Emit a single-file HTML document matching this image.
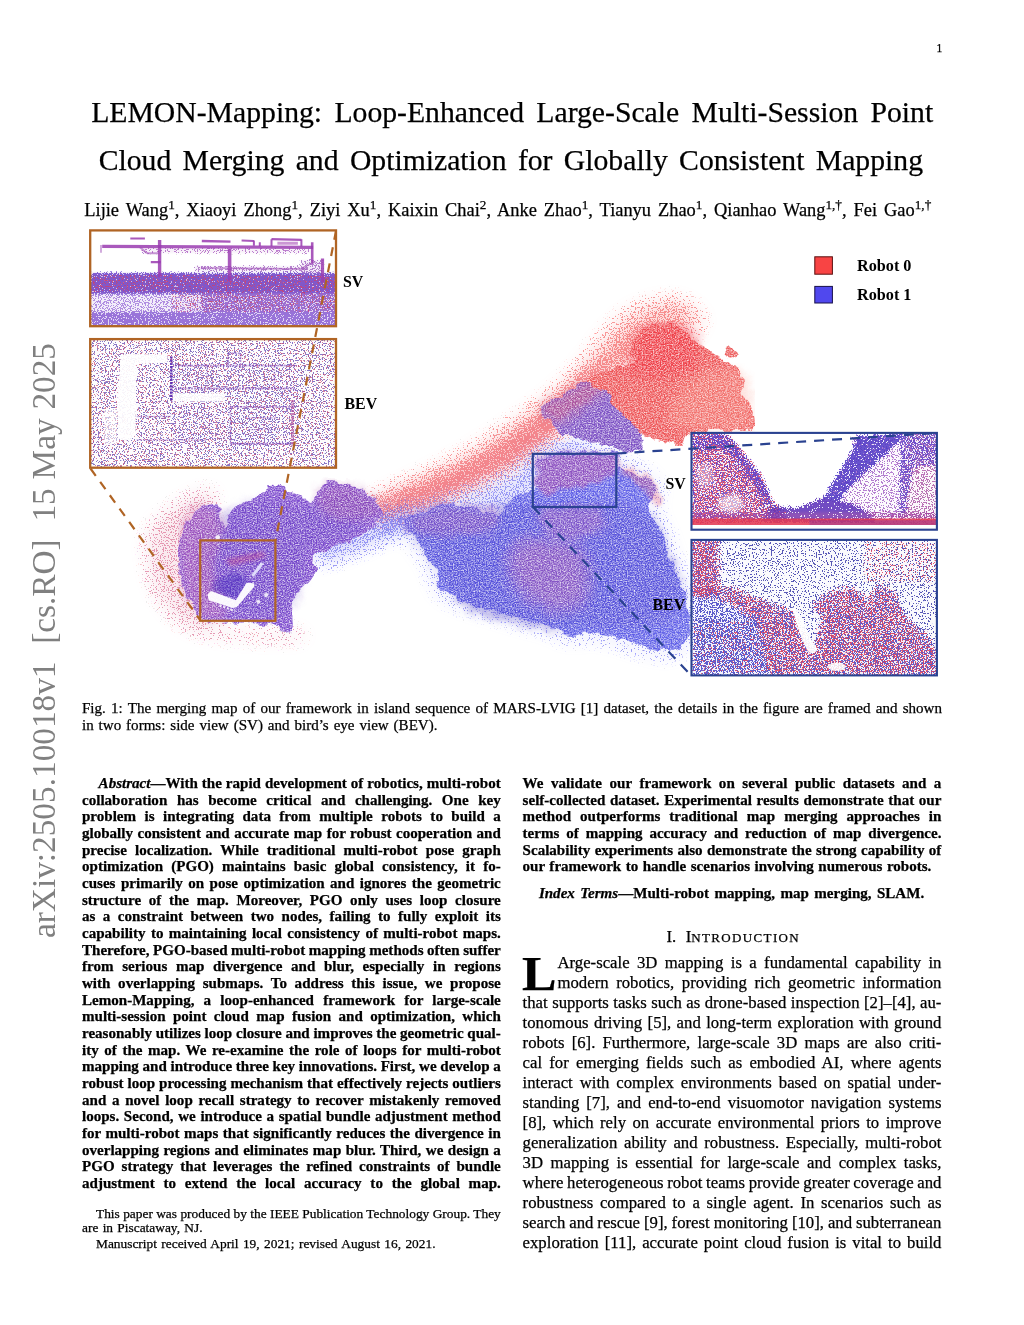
<!DOCTYPE html>
<html lang="en"><head><meta charset="utf-8"><title>LEMON-Mapping</title>
<style>
html,body{margin:0;padding:0;background:#fff;}
body{width:1024px;height:1325px;position:relative;overflow:hidden;font-family:"Liberation Serif",serif;color:#000;-webkit-text-stroke:0.25px #000;}
.l{position:absolute;white-space:nowrap;line-height:1;}
.b{font-weight:bold;}
.l sup{font-size:0.72em;line-height:0;vertical-align:baseline;position:relative;top:-0.5em;}
.arx{position:absolute;left:26.7px;top:937.5px;transform-origin:0 0;transform:rotate(-90deg);font-size:33.3px;line-height:1;white-space:nowrap;color:#808080;-webkit-text-stroke:0;width:595px;text-align:justify;text-align-last:justify;}
#fig{position:absolute;left:0;top:0;}
</style></head><body>
<svg id="fig" width="1024" height="700" viewBox="0 0 1024 700" font-family="Liberation Serif, serif">
<defs>
<filter id="rag" x="-5%" y="-5%" width="110%" height="110%">
 <feTurbulence type="fractalNoise" baseFrequency="0.09" numOctaves="3" seed="4" result="t"/>
 <feDisplacementMap in="SourceGraphic" in2="t" scale="9" xChannelSelector="R" yChannelSelector="G"/>
</filter>
<filter id="grain" x="0" y="0" width="100%" height="100%" color-interpolation-filters="sRGB">
 <feTurbulence type="fractalNoise" baseFrequency="0.09" numOctaves="3" seed="4" result="t"/>
 <feDisplacementMap in="SourceGraphic" in2="t" scale="9" xChannelSelector="R" yChannelSelector="G" result="sg"/>
 <feTurbulence type="fractalNoise" baseFrequency="0.73 0.81" numOctaves="2" seed="11" result="n"/>
 <feColorMatrix in="n" type="matrix" values="0 0 0 0 1  0 0 0 0 1  0 0 0 0 1  1.7 0 0 0 -0.6" result="w"/>
 <feComposite in="w" in2="sg" operator="in" result="wi"/>
 <feMerge><feMergeNode in="sg"/><feMergeNode in="wi"/></feMerge>
</filter>
<filter id="stip" x="-20%" y="-20%" width="140%" height="140%" color-interpolation-filters="sRGB">
 <feGaussianBlur in="SourceGraphic" stdDeviation="9" result="soft"/>
 <feTurbulence type="fractalNoise" baseFrequency="0.73 0.81" numOctaves="2" seed="5" result="n"/>
 <feColorMatrix in="n" type="matrix" values="0 0 0 0 0  0 0 0 0 0  0 0 0 0 0  2.8 0 0 0 -0.9" result="na"/>
 <feComposite in="soft" in2="na" operator="arithmetic" k1="0" k2="1" k3="1" k4="-1" result="sum"/>
 <feComponentTransfer in="sum" result="th"><feFuncA type="linear" slope="6" intercept="0"/></feComponentTransfer>
 <feComposite in="soft" in2="th" operator="in" result="c"/>
 <feComponentTransfer in="c" result="d1"><feFuncA type="linear" slope="30" intercept="0"/></feComponentTransfer>
 <feComponentTransfer in="d1" result="d2"><feFuncA type="linear" slope="0.6" intercept="0"/></feComponentTransfer>
 <feComponentTransfer in="soft" result="tint"><feFuncA type="linear" slope="0.45" intercept="0"/></feComponentTransfer>
 <feMerge><feMergeNode in="tint"/><feMergeNode in="d2"/></feMerge>
</filter>
<filter id="stipb" x="-20%" y="-20%" width="140%" height="140%" color-interpolation-filters="sRGB">
 <feGaussianBlur in="SourceGraphic" stdDeviation="9" result="soft"/>
 <feTurbulence type="fractalNoise" baseFrequency="0.73 0.81" numOctaves="2" seed="17" result="n"/>
 <feColorMatrix in="n" type="matrix" values="0 0 0 0 0  0 0 0 0 0  0 0 0 0 0  2.8 0 0 0 -0.9" result="na"/>
 <feComposite in="soft" in2="na" operator="arithmetic" k1="0" k2="1" k3="1" k4="-1" result="sum"/>
 <feComponentTransfer in="sum" result="th"><feFuncA type="linear" slope="6" intercept="0"/></feComponentTransfer>
 <feComposite in="soft" in2="th" operator="in" result="c"/>
 <feComponentTransfer in="c" result="d1"><feFuncA type="linear" slope="30" intercept="0"/></feComponentTransfer>
 <feComponentTransfer in="d1" result="d2"><feFuncA type="linear" slope="0.6" intercept="0"/></feComponentTransfer>
 <feComponentTransfer in="soft" result="tint"><feFuncA type="linear" slope="0.45" intercept="0"/></feComponentTransfer>
 <feMerge><feMergeNode in="tint"/><feMergeNode in="d2"/></feMerge>
</filter>
<filter id="b4"><feGaussianBlur stdDeviation="4"/></filter>
<filter id="b8"><feGaussianBlur stdDeviation="8"/></filter>
<filter id="b2"><feGaussianBlur stdDeviation="2"/></filter>
</defs>
<g filter="url(#stip)" fill="none" stroke-linecap="round" stroke-linejoin="round">
<path d="M150.0,530.0C156.2,520.0 174.2,505.8 185.0,500.0C195.8,494.2 212.5,485.0 215.0,495.0C217.5,505.0 200.0,538.3 200.0,560.0C200.0,581.7 198.3,613.0 215.0,625.0C231.7,637.0 287.5,629.5 300.0,632.0C312.5,634.5 306.7,640.0 290.0,640.0C273.3,640.0 221.7,638.7 200.0,632.0C178.3,625.3 168.7,612.0 160.0,600.0C151.3,588.0 149.7,571.7 148.0,560.0C146.3,548.3 143.8,540.0 150.0,530.0Z" fill="#d86088" fill-opacity="0.3"/>
<path d="M385.0,494.0C399.2,484.0 440.8,468.0 470.0,450.0C499.2,432.0 535.0,408.0 560.0,386.0C585.0,364.0 602.0,332.3 620.0,318.0C638.0,303.7 656.0,301.3 668.0,300.0C680.0,298.7 693.3,304.3 692.0,310.0C690.7,315.7 673.7,323.3 660.0,334.0C646.3,344.7 630.0,358.0 610.0,374.0C590.0,390.0 563.3,413.0 540.0,430.0C516.7,447.0 495.8,462.7 470.0,476.0C444.2,489.3 399.2,507.0 385.0,510.0C370.8,513.0 370.8,504.0 385.0,494.0Z" fill="#f25a5a" fill-opacity="0.34"/>
<path d="M382.0,500.0C396.7,491.7 442.8,477.3 470.0,462.0C497.2,446.7 522.5,426.3 545.0,408.0C567.5,389.7 587.5,365.8 605.0,352.0C622.5,338.2 644.2,325.3 650.0,325.0C655.8,324.7 647.5,341.2 640.0,350.0C632.5,358.8 621.7,364.3 605.0,378.0C588.3,391.7 562.5,415.3 540.0,432.0C517.5,448.7 496.3,464.7 470.0,478.0C443.7,491.3 396.7,508.3 382.0,512.0C367.3,515.7 367.3,508.3 382.0,500.0Z" fill="#f25a5a" fill-opacity="0.45"/>
<path d="M380,509 C428,496 474,476 512,452 S570,405 600,380" stroke="#ee5c66" stroke-opacity="0.95" stroke-width="20"/>
<path d="M610.0,370.0C606.7,366.7 623.3,344.2 630.0,335.0C636.7,325.8 641.7,319.8 650.0,315.0C658.3,310.2 671.3,305.8 680.0,306.0C688.7,306.2 699.7,311.3 702.0,316.0C704.3,320.7 702.7,327.5 694.0,334.0C685.3,340.5 664.0,349.0 650.0,355.0C636.0,361.0 613.3,373.3 610.0,370.0Z" fill="#f25a5a" fill-opacity="0.35"/>
</g>
<g filter="url(#stipb)" fill="none" stroke-linecap="round" stroke-linejoin="round">
<path d="M409.8,515.8C413.7,512.8 443.0,502.8 459.6,495.9C476.2,489.0 497.2,480.9 509.4,474.3C521.6,467.7 522.1,461.9 532.6,456.0C543.2,450.2 562.5,441.1 572.5,439.4C582.4,437.8 599.0,437.8 592.4,446.1C585.8,454.4 547.6,478.2 532.6,489.2C517.7,500.3 513.3,510.0 502.8,512.5C492.2,515.0 480.6,503.9 469.6,504.2C458.5,504.5 446.3,512.2 436.4,514.1C426.4,516.1 405.9,518.8 409.8,515.8Z" fill="#6a6af0" fill-opacity="0.38"/>
<path d="M322,553 C350,545 380,530 406,519" stroke="#6464ee" stroke-opacity="0.7" stroke-width="15"/>
<path d="M385,524 L408,518" stroke="#6060ee" stroke-opacity="0.9" stroke-width="14"/>
<path d="M409.4,516.9C414.1,513.2 429.7,509.6 437.5,507.5C445.3,505.4 449.5,504.1 456.2,504.4C463.0,504.6 470.8,507.5 478.1,509.1C485.4,510.6 495.3,514.5 500.0,513.8C504.7,513.0 502.1,508.0 506.2,504.4C510.4,500.7 519.8,494.7 525.0,491.9C530.2,489.0 535.4,491.4 537.5,487.2C539.6,483.0 536.5,471.8 537.5,466.9C538.5,461.9 539.1,459.8 543.8,457.5C548.4,455.2 553.6,453.6 565.6,452.8C577.6,452.0 606.8,450.5 615.6,452.8C624.5,455.2 615.1,463.5 618.8,466.9C622.4,470.3 632.3,470.5 637.5,473.1C642.7,475.7 646.9,479.4 650.0,482.5C653.1,485.6 656.8,488.2 656.2,491.9C655.7,495.5 646.9,499.2 646.9,504.4C646.9,509.6 653.1,516.4 656.2,523.1C659.4,529.9 663.0,537.7 665.6,545.0C668.2,552.3 669.3,560.6 671.9,566.9C674.5,573.1 678.6,575.7 681.2,582.5C683.9,589.3 685.9,599.2 687.5,607.5C689.1,615.8 691.7,626.2 690.6,632.5C689.6,638.8 685.4,641.9 681.2,645.0C677.1,648.1 672.9,651.2 665.6,651.2C658.3,651.2 645.3,647.1 637.5,645.0C629.7,642.9 626.0,640.8 618.8,638.8C611.5,636.7 602.1,633.0 593.8,632.5C585.4,632.0 576.0,636.7 568.8,635.6C561.5,634.6 557.3,628.9 550.0,626.2C542.7,623.6 534.4,622.6 525.0,620.0C515.6,617.4 504.2,613.8 493.8,610.6C483.3,607.5 471.4,604.9 462.5,601.2C453.6,597.6 445.3,594.5 440.6,588.8C435.9,583.0 438.0,574.2 434.4,566.9C430.7,559.6 422.9,551.2 418.8,545.0C414.6,538.8 410.9,534.1 409.4,529.4C407.8,524.7 404.7,520.5 409.4,516.9Z" fill="none" stroke="#6a6af0" stroke-opacity="0.3" stroke-width="10"/>
</g>
<g filter="url(#grain)">
<path d="M540.9,407.9C543.7,403.2 557.3,397.4 565.8,393.0C574.4,388.5 584.1,380.8 592.4,381.3C600.7,381.9 608.5,389.4 615.6,396.3C622.8,403.2 631.1,414.5 635.6,422.8C640.0,431.1 643.9,441.4 642.2,446.1C640.5,450.8 633.9,451.9 625.6,451.1C617.3,450.2 602.4,443.9 592.4,441.1C582.4,438.3 573.0,437.8 565.8,434.5C558.6,431.1 553.4,425.6 549.2,421.2C545.1,416.8 538.2,412.6 540.9,407.9Z" fill="#7c50c4"/>
<path d="M540.9,407.9C542.6,402.9 557.3,397.4 565.8,393.0C574.4,388.5 585.8,381.9 592.4,381.3C599.0,380.8 607.9,384.9 605.7,389.6C603.5,394.3 587.4,404.0 579.1,409.6C570.8,415.1 562.2,423.1 555.9,422.8C549.5,422.6 539.3,412.9 540.9,407.9Z" fill="#d0507a" fill-opacity="0.55" filter="url(#b4)"/>
<path d="M630.3,348.6C631.1,344.3 633.4,338.4 637.3,334.5C641.2,330.6 647.1,326.9 653.7,325.2C660.4,323.4 671.7,322.8 677.2,324.0C682.6,325.2 683.4,329.3 686.6,332.2C689.7,335.1 692.0,338.4 695.9,341.6C699.8,344.7 705.3,348.2 710.0,350.9C714.7,353.7 720.1,355.6 724.0,358.0C728.0,360.3 730.3,361.5 733.4,365.0C736.5,368.5 741.2,374.4 742.8,379.1C744.4,383.7 741.2,388.4 742.8,393.1C744.4,397.8 750.2,402.1 752.2,407.2C754.1,412.3 755.3,419.7 754.5,423.6C753.7,427.5 751.0,429.4 747.5,430.6C744.0,431.8 742.8,430.2 733.4,430.6C724.0,431.0 699.8,430.6 691.2,433.0C682.6,435.3 686.2,443.1 681.9,444.7C677.6,446.2 670.1,443.1 665.5,442.3C660.8,441.6 658.4,441.9 653.7,440.0C649.1,438.0 642.0,434.5 637.3,430.6C632.7,426.7 629.5,420.8 625.6,416.6C621.7,412.3 617.0,408.7 613.9,404.8C610.8,400.9 611.2,396.6 606.9,393.1C602.6,389.6 590.9,386.5 588.1,383.7C585.4,381.0 585.4,379.4 590.5,376.7C595.5,374.0 611.6,370.1 618.6,367.3C625.6,364.6 630.7,363.4 632.7,360.3C634.6,357.2 629.5,352.9 630.3,348.6Z" fill="#ee5658"/>
<path d="M632.0,352.0C634.5,345.0 634.5,335.0 640.0,330.0C645.5,325.0 656.7,322.3 665.0,322.0C673.3,321.7 684.2,323.3 690.0,328.0C695.8,332.7 700.0,342.7 700.0,350.0C700.0,357.3 698.3,367.3 690.0,372.0C681.7,376.7 660.8,378.0 650.0,378.0C639.2,378.0 628.0,376.3 625.0,372.0C622.0,367.7 629.5,359.0 632.0,352.0Z" fill="#f02830" fill-opacity="0.45" filter="url(#b4)"/>
<path d="M690.0,380.0C701.7,372.0 729.7,367.0 740.0,372.0C750.3,377.0 750.3,400.7 752.0,410.0C753.7,419.3 758.7,424.7 750.0,428.0C741.3,431.3 713.3,431.3 700.0,430.0C686.7,428.7 671.7,428.3 670.0,420.0C668.3,411.7 678.3,388.0 690.0,380.0Z" fill="#f8a090" fill-opacity="0.35" filter="url(#b4)"/>
<circle cx="732" cy="353" r="5.5" fill="#ec5a5a"/>
<path d="M409.4,516.9C414.1,513.2 429.7,509.6 437.5,507.5C445.3,505.4 449.5,504.1 456.2,504.4C463.0,504.6 470.8,507.5 478.1,509.1C485.4,510.6 495.3,514.5 500.0,513.8C504.7,513.0 502.1,508.0 506.2,504.4C510.4,500.7 519.8,494.7 525.0,491.9C530.2,489.0 535.4,491.4 537.5,487.2C539.6,483.0 536.5,471.8 537.5,466.9C538.5,461.9 539.1,459.8 543.8,457.5C548.4,455.2 553.6,453.6 565.6,452.8C577.6,452.0 606.8,450.5 615.6,452.8C624.5,455.2 615.1,463.5 618.8,466.9C622.4,470.3 632.3,470.5 637.5,473.1C642.7,475.7 646.9,479.4 650.0,482.5C653.1,485.6 656.8,488.2 656.2,491.9C655.7,495.5 646.9,499.2 646.9,504.4C646.9,509.6 653.1,516.4 656.2,523.1C659.4,529.9 663.0,537.7 665.6,545.0C668.2,552.3 669.3,560.6 671.9,566.9C674.5,573.1 678.6,575.7 681.2,582.5C683.9,589.3 685.9,599.2 687.5,607.5C689.1,615.8 691.7,626.2 690.6,632.5C689.6,638.8 685.4,641.9 681.2,645.0C677.1,648.1 672.9,651.2 665.6,651.2C658.3,651.2 645.3,647.1 637.5,645.0C629.7,642.9 626.0,640.8 618.8,638.8C611.5,636.7 602.1,633.0 593.8,632.5C585.4,632.0 576.0,636.7 568.8,635.6C561.5,634.6 557.3,628.9 550.0,626.2C542.7,623.6 534.4,622.6 525.0,620.0C515.6,617.4 504.2,613.8 493.8,610.6C483.3,607.5 471.4,604.9 462.5,601.2C453.6,597.6 445.3,594.5 440.6,588.8C435.9,583.0 438.0,574.2 434.4,566.9C430.7,559.6 422.9,551.2 418.8,545.0C414.6,538.8 410.9,534.1 409.4,529.4C407.8,524.7 404.7,520.5 409.4,516.9Z" fill="#6060e8"/>
<path d="M411.7,517.6C416.6,512.2 429.8,506.8 443.9,505.9C458.1,504.9 485.5,512.2 496.7,511.7C507.9,511.2 491.3,504.4 511.3,502.9C531.4,501.5 593.4,500.5 616.8,502.9C640.3,505.4 644.2,510.7 652.0,517.6C659.8,524.4 658.8,532.2 663.7,543.9C668.6,555.7 679.3,575.7 681.3,587.9C683.2,600.1 683.2,610.4 675.4,617.2C667.6,624.0 649.0,627.5 634.4,628.9C619.7,630.4 600.2,626.0 587.5,626.0C574.8,626.0 569.9,629.4 558.2,628.9C546.5,628.4 531.4,626.0 517.2,623.1C503.0,620.1 485.0,617.2 473.2,611.3C461.5,605.5 453.7,596.7 446.9,587.9C440.0,579.1 437.6,566.9 432.2,558.6C426.9,550.3 418.1,544.9 414.6,538.1C411.2,531.3 406.8,523.0 411.7,517.6Z" fill="#4638c4" fill-opacity="0.38" filter="url(#b4)"/>
<path d="M408.8,517.6C413.7,513.2 429.3,506.8 443.9,505.9C458.6,504.9 489.4,507.3 496.7,511.7C504.0,516.1 496.7,528.3 487.9,532.2C479.1,536.1 456.2,535.2 443.9,535.2C431.7,535.2 420.5,535.2 414.6,532.2C408.8,529.3 403.9,522.0 408.8,517.6Z" fill="#a050b0" fill-opacity="0.4" filter="url(#b4)"/>
<path d="M511.3,546.9C516.2,541.5 527.0,538.6 537.7,538.1C548.5,537.6 567.0,537.6 575.8,543.9C584.6,550.3 589.5,565.9 590.4,576.2C591.4,586.4 588.0,599.6 581.7,605.5C575.3,611.3 562.1,612.8 552.4,611.3C542.6,609.9 530.4,603.5 523.1,596.7C515.7,589.9 510.4,578.6 508.4,570.3C506.5,562.0 506.5,552.3 511.3,546.9Z" fill="#b45ab0" fill-opacity="0.5" filter="url(#b8)"/>
<path d="M540.6,508.8C549.4,504.9 589.0,505.4 599.2,508.8C609.5,512.2 606.1,524.4 602.2,529.3C598.3,534.2 585.1,537.6 575.8,538.1C566.5,538.6 552.4,537.1 546.5,532.2C540.6,527.3 531.8,512.7 540.6,508.8Z" fill="#b45ab0" fill-opacity="0.4" filter="url(#b4)"/>
<path d="M538.0,462.0C541.3,455.3 547.3,455.3 560.0,454.0C572.7,452.7 604.7,451.0 614.0,454.0C623.3,457.0 620.0,467.0 616.0,472.0C612.0,477.0 599.3,481.0 590.0,484.0C580.7,487.0 568.3,488.3 560.0,490.0C551.7,491.7 543.7,498.7 540.0,494.0C536.3,489.3 534.7,468.7 538.0,462.0Z" fill="#a04cb0" fill-opacity="0.7" filter="url(#b2)"/>
<path d="M628.0,466.0C632.7,467.0 644.3,474.3 650.0,480.0C655.7,485.7 661.0,496.2 662.0,500.0C663.0,503.8 659.7,505.3 656.0,503.0C652.3,500.7 645.7,490.8 640.0,486.0C634.3,481.2 624.0,477.3 622.0,474.0C620.0,470.7 623.3,465.0 628.0,466.0Z" fill="#e05070" fill-opacity="0.4" filter="url(#b2)"/>
<path d="M178.1,555.0C178.6,546.2 180.5,536.4 183.9,528.6C187.4,520.8 193.7,512.5 198.6,508.1C203.5,503.7 209.6,502.2 213.2,502.2C216.9,502.2 219.1,504.2 220.6,508.1C222.0,512.0 221.3,523.0 222.0,525.7C222.8,528.4 223.0,527.1 225.0,524.2C226.9,521.3 229.4,512.2 233.8,508.1C238.2,503.9 246.0,502.0 251.3,499.3C256.7,496.6 263.1,494.4 266.0,492.0C268.9,489.5 267.0,485.9 268.9,484.6C270.9,483.4 274.8,483.7 277.7,484.6C280.6,485.6 282.1,488.6 286.5,490.5C290.9,492.5 299.7,494.4 304.1,496.4C308.5,498.3 310.9,502.7 312.9,502.2C314.8,501.7 313.4,496.6 315.8,493.4C318.2,490.3 323.1,484.9 327.5,483.2C331.9,481.5 337.3,482.5 342.2,483.2C347.1,483.9 351.9,485.4 356.8,487.6C361.7,489.8 367.6,493.4 371.5,496.4C375.4,499.3 378.3,502.2 380.3,505.2C382.2,508.1 385.1,510.0 383.2,513.9C381.2,517.9 373.9,524.2 368.5,528.6C363.2,533.0 357.8,536.9 351.0,540.3C344.1,543.7 333.9,546.7 327.5,549.1C321.2,551.6 314.8,551.6 312.9,555.0C310.9,558.4 316.3,565.2 315.8,569.6C315.3,574.0 312.9,577.4 309.9,581.3C307.0,585.2 301.1,588.7 298.2,593.1C295.3,597.5 293.3,601.8 292.4,607.7C291.4,613.6 293.8,624.1 292.4,628.2C290.9,632.4 286.5,633.1 283.6,632.6C280.6,632.1 279.2,627.0 274.8,625.3C270.4,623.6 265.0,622.8 257.2,622.4C249.4,621.9 237.2,622.8 227.9,622.4C218.6,621.9 207.9,622.8 201.5,619.4C195.2,616.0 193.2,608.2 189.8,601.8C186.4,595.5 183.0,589.2 181.0,581.3C179.1,573.5 177.6,563.8 178.1,555.0Z" fill="#7e4cce"/>
<path d="M215.0,520.0C225.0,512.5 245.8,501.7 260.0,500.0C274.2,498.3 286.7,510.8 300.0,510.0C313.3,509.2 328.0,495.8 340.0,495.0C352.0,494.2 370.3,498.3 372.0,505.0C373.7,511.7 360.3,527.5 350.0,535.0C339.7,542.5 318.3,540.8 310.0,550.0C301.7,559.2 305.0,579.2 300.0,590.0C295.0,600.8 291.7,611.3 280.0,615.0C268.3,618.7 242.5,617.8 230.0,612.0C217.5,606.2 210.0,591.2 205.0,580.0C200.0,568.8 198.3,555.0 200.0,545.0C201.7,535.0 205.0,527.5 215.0,520.0Z" fill="#5c34c0" fill-opacity="0.3" filter="url(#b4)"/>
<path d="M180.0,530.0C182.8,516.7 193.0,506.7 200.0,505.0C207.0,503.3 219.5,509.2 222.0,520.0C224.5,530.8 214.5,553.7 215.0,570.0C215.5,586.3 227.5,610.5 225.0,618.0C222.5,625.5 207.0,620.5 200.0,615.0C193.0,609.5 186.3,599.2 183.0,585.0C179.7,570.8 177.2,543.3 180.0,530.0Z" fill="#c860a8" fill-opacity="0.4" filter="url(#b4)"/>
<path d="M318.0,490.0C321.8,485.3 335.5,482.3 345.0,484.0C354.5,485.7 369.2,494.8 375.0,500.0C380.8,505.2 384.2,511.7 380.0,515.0C375.8,518.3 359.7,520.5 350.0,520.0C340.3,519.5 327.3,517.0 322.0,512.0C316.7,507.0 314.2,494.7 318.0,490.0Z" fill="#b050a0" fill-opacity="0.35" filter="url(#b4)"/>
</g>
<defs>
<clipPath id="cSV1"><rect x="90" y="231" width="246.5" height="95"/></clipPath>
<clipPath id="cBEV1"><rect x="90" y="339" width="246.5" height="128.5"/></clipPath>
<clipPath id="cSV2"><rect x="691.5" y="432.5" width="246" height="97"/></clipPath>
<clipPath id="cBEV2"><rect x="691.5" y="540" width="246" height="136"/></clipPath>
<filter id="stip2" x="0" y="0" width="100%" height="100%" color-interpolation-filters="sRGB">
 <feGaussianBlur in="SourceGraphic" stdDeviation="1.2" result="soft"/>
 <feTurbulence type="fractalNoise" baseFrequency="0.73 0.81" numOctaves="2" seed="9" result="n"/>
 <feColorMatrix in="n" type="matrix" values="0 0 0 0 0  0 0 0 0 0  0 0 0 0 0  2.8 0 0 0 -0.9" result="na"/>
 <feComposite in="soft" in2="na" operator="arithmetic" k1="0" k2="1" k3="1" k4="-1" result="sum"/>
 <feComponentTransfer in="sum" result="th"><feFuncA type="linear" slope="6" intercept="0"/></feComponentTransfer>
 <feComposite in="soft" in2="th" operator="in" result="c"/>
 <feComponentTransfer in="c" result="d1"><feFuncA type="linear" slope="30" intercept="0"/></feComponentTransfer>
 <feComponentTransfer in="d1" result="d2"><feFuncA type="linear" slope="0.75" intercept="0"/></feComponentTransfer>
 <feComponentTransfer in="soft" result="tint"><feFuncA type="linear" slope="0.3" intercept="0"/></feComponentTransfer>
 <feMerge><feMergeNode in="tint"/><feMergeNode in="d2"/></feMerge>
</filter>
<filter id="stip3" x="0" y="0" width="100%" height="100%" color-interpolation-filters="sRGB">
 <feGaussianBlur in="SourceGraphic" stdDeviation="1.2" result="soft"/>
 <feTurbulence type="fractalNoise" baseFrequency="0.73 0.81" numOctaves="2" seed="23" result="n"/>
 <feColorMatrix in="n" type="matrix" values="0 0 0 0 0  0 0 0 0 0  0 0 0 0 0  2.8 0 0 0 -0.9" result="na"/>
 <feComposite in="soft" in2="na" operator="arithmetic" k1="0" k2="1" k3="1" k4="-1" result="sum"/>
 <feComponentTransfer in="sum" result="th"><feFuncA type="linear" slope="6" intercept="0"/></feComponentTransfer>
 <feComposite in="soft" in2="th" operator="in" result="c"/>
 <feComponentTransfer in="c" result="d1"><feFuncA type="linear" slope="30" intercept="0"/></feComponentTransfer>
 <feComponentTransfer in="d1" result="d2"><feFuncA type="linear" slope="0.75" intercept="0"/></feComponentTransfer>
 <feComponentTransfer in="soft" result="tint"><feFuncA type="linear" slope="0.3" intercept="0"/></feComponentTransfer>
 <feMerge><feMergeNode in="tint"/><feMergeNode in="d2"/></feMerge>
</filter>
<filter id="stip4" x="0" y="0" width="100%" height="100%" color-interpolation-filters="sRGB">
 <feGaussianBlur in="SourceGraphic" stdDeviation="1.2" result="soft"/>
 <feTurbulence type="fractalNoise" baseFrequency="0.73 0.81" numOctaves="2" seed="31" result="n"/>
 <feColorMatrix in="n" type="matrix" values="0 0 0 0 0  0 0 0 0 0  0 0 0 0 0  2.8 0 0 0 -0.9" result="na"/>
 <feComposite in="soft" in2="na" operator="arithmetic" k1="0" k2="1" k3="1" k4="-1" result="sum"/>
 <feComponentTransfer in="sum" result="th"><feFuncA type="linear" slope="6" intercept="0"/></feComponentTransfer>
 <feComposite in="soft" in2="th" operator="in" result="c"/>
 <feComponentTransfer in="c" result="d1"><feFuncA type="linear" slope="30" intercept="0"/></feComponentTransfer>
 <feComponentTransfer in="d1" result="d2"><feFuncA type="linear" slope="0.7" intercept="0"/></feComponentTransfer>
 <feComponentTransfer in="soft" result="tint"><feFuncA type="linear" slope="0.05" intercept="0"/></feComponentTransfer>
 <feMerge><feMergeNode in="tint"/><feMergeNode in="d2"/></feMerge>
</filter>
<filter id="stip5" x="0" y="0" width="100%" height="100%" color-interpolation-filters="sRGB">
 <feGaussianBlur in="SourceGraphic" stdDeviation="1.2" result="soft"/>
 <feTurbulence type="fractalNoise" baseFrequency="0.73 0.81" numOctaves="2" seed="47" result="n"/>
 <feColorMatrix in="n" type="matrix" values="0 0 0 0 0  0 0 0 0 0  0 0 0 0 0  2.8 0 0 0 -0.9" result="na"/>
 <feComposite in="soft" in2="na" operator="arithmetic" k1="0" k2="1" k3="1" k4="-1" result="sum"/>
 <feComponentTransfer in="sum" result="th"><feFuncA type="linear" slope="6" intercept="0"/></feComponentTransfer>
 <feComposite in="soft" in2="th" operator="in" result="c"/>
 <feComponentTransfer in="c" result="d1"><feFuncA type="linear" slope="30" intercept="0"/></feComponentTransfer>
 <feComponentTransfer in="d1" result="d2"><feFuncA type="linear" slope="0.7" intercept="0"/></feComponentTransfer>
 <feComponentTransfer in="soft" result="tint"><feFuncA type="linear" slope="0.05" intercept="0"/></feComponentTransfer>
 <feMerge><feMergeNode in="tint"/><feMergeNode in="d2"/></feMerge>
</filter>
</defs>
<defs><filter id="stip6" x="0" y="0" width="100%" height="100%" color-interpolation-filters="sRGB">
 <feGaussianBlur in="SourceGraphic" stdDeviation="2.5" result="soft"/>
 <feTurbulence type="fractalNoise" baseFrequency="0.73 0.81" numOctaves="2" seed="61" result="n"/>
 <feColorMatrix in="n" type="matrix" values="0 0 0 0 0  0 0 0 0 0  0 0 0 0 0  2.8 0 0 0 -0.9" result="na"/>
 <feComposite in="soft" in2="na" operator="arithmetic" k1="0" k2="1" k3="1" k4="-1" result="sum"/>
 <feComponentTransfer in="sum" result="th"><feFuncA type="linear" slope="6" intercept="0"/></feComponentTransfer>
 <feComposite in="soft" in2="th" operator="in" result="c"/>
 <feComponentTransfer in="c" result="d1"><feFuncA type="linear" slope="30" intercept="0"/></feComponentTransfer>
 <feComponentTransfer in="d1" result="d2"><feFuncA type="linear" slope="0.85" intercept="0"/></feComponentTransfer>
 <feComponentTransfer in="soft" result="tint"><feFuncA type="linear" slope="0.12" intercept="0"/></feComponentTransfer>
 <feMerge><feMergeNode in="tint"/><feMergeNode in="d2"/></feMerge>
</filter><filter id="stip7" x="0" y="0" width="100%" height="100%" color-interpolation-filters="sRGB">
 <feGaussianBlur in="SourceGraphic" stdDeviation="2.5" result="soft"/>
 <feTurbulence type="fractalNoise" baseFrequency="0.73 0.81" numOctaves="2" seed="73" result="n"/>
 <feColorMatrix in="n" type="matrix" values="0 0 0 0 0  0 0 0 0 0  0 0 0 0 0  2.8 0 0 0 -0.9" result="na"/>
 <feComposite in="soft" in2="na" operator="arithmetic" k1="0" k2="1" k3="1" k4="-1" result="sum"/>
 <feComponentTransfer in="sum" result="th"><feFuncA type="linear" slope="6" intercept="0"/></feComponentTransfer>
 <feComposite in="soft" in2="th" operator="in" result="c"/>
 <feComponentTransfer in="c" result="d1"><feFuncA type="linear" slope="30" intercept="0"/></feComponentTransfer>
 <feComponentTransfer in="d1" result="d2"><feFuncA type="linear" slope="0.85" intercept="0"/></feComponentTransfer>
 <feComponentTransfer in="soft" result="tint"><feFuncA type="linear" slope="0.12" intercept="0"/></feComponentTransfer>
 <feMerge><feMergeNode in="tint"/><feMergeNode in="d2"/></feMerge>
</filter><filter id="stip8" x="0" y="0" width="100%" height="100%" color-interpolation-filters="sRGB">
 <feGaussianBlur in="SourceGraphic" stdDeviation="1.6" result="soft"/>
 <feTurbulence type="fractalNoise" baseFrequency="0.73 0.81" numOctaves="2" seed="83" result="n"/>
 <feColorMatrix in="n" type="matrix" values="0 0 0 0 0  0 0 0 0 0  0 0 0 0 0  2.8 0 0 0 -0.9" result="na"/>
 <feComposite in="soft" in2="na" operator="arithmetic" k1="0" k2="1" k3="1" k4="-1" result="sum"/>
 <feComponentTransfer in="sum" result="th"><feFuncA type="linear" slope="6" intercept="0"/></feComponentTransfer>
 <feComposite in="soft" in2="th" operator="in" result="c"/>
 <feComponentTransfer in="c" result="d1"><feFuncA type="linear" slope="30" intercept="0"/></feComponentTransfer>
 <feComponentTransfer in="d1" result="d2"><feFuncA type="linear" slope="0.85" intercept="0"/></feComponentTransfer>
 <feComponentTransfer in="soft" result="tint"><feFuncA type="linear" slope="0.12" intercept="0"/></feComponentTransfer>
 <feMerge><feMergeNode in="tint"/><feMergeNode in="d2"/></feMerge>
</filter><filter id="stip9" x="0" y="0" width="100%" height="100%" color-interpolation-filters="sRGB">
 <feGaussianBlur in="SourceGraphic" stdDeviation="1.6" result="soft"/>
 <feTurbulence type="fractalNoise" baseFrequency="0.73 0.81" numOctaves="2" seed="97" result="n"/>
 <feColorMatrix in="n" type="matrix" values="0 0 0 0 0  0 0 0 0 0  0 0 0 0 0  2.8 0 0 0 -0.9" result="na"/>
 <feComposite in="soft" in2="na" operator="arithmetic" k1="0" k2="1" k3="1" k4="-1" result="sum"/>
 <feComponentTransfer in="sum" result="th"><feFuncA type="linear" slope="6" intercept="0"/></feComponentTransfer>
 <feComposite in="soft" in2="th" operator="in" result="c"/>
 <feComponentTransfer in="c" result="d1"><feFuncA type="linear" slope="30" intercept="0"/></feComponentTransfer>
 <feComponentTransfer in="d1" result="d2"><feFuncA type="linear" slope="0.85" intercept="0"/></feComponentTransfer>
 <feComponentTransfer in="soft" result="tint"><feFuncA type="linear" slope="0.12" intercept="0"/></feComponentTransfer>
 <feMerge><feMergeNode in="tint"/><feMergeNode in="d2"/></feMerge>
</filter></defs>
<path d="M214.4,580.8L235.9,572.0L248.6,580.8L236.9,598.4L211.0,591.0Z" fill="#4228bc" fill-opacity="0.4" filter="url(#b2)"/>
<path d="M225.2,559.3L262.3,551.5L267.1,556.4L231.0,566.1Z" fill="#d04078" fill-opacity="0.35" filter="url(#b2)"/>
<path d="M207.6,594.5L211.0,591.0L235.9,600.3L246.6,582.7L253.5,583.2L254.5,586.2L236.9,607.1L233.0,608.1L208.6,600.3Z" fill="#fff" fill-opacity="0.95"/>
<path d="M252.5,575.9L262.3,563.2" stroke="#e8e8ff" stroke-width="3" stroke-opacity="0.9"/>
<path d="M219.3,605.2L234.9,611.1" stroke="#fff" stroke-width="2" stroke-opacity="0.8" stroke-dasharray="2.5 1.5"/>
<circle cx="266.2" cy="594.9" r="2" fill="#fff" fill-opacity="0.85"/><circle cx="258.4" cy="601.8" r="2" fill="#fff" fill-opacity="0.8"/><circle cx="217.8" cy="537.3" r="2.4" fill="#fff" fill-opacity="0.85"/>
<rect x="90" y="231" width="246.5" height="95" fill="#fff"/>
<g clip-path="url(#cSV1)">
<g filter="url(#stip2)">
<rect x="90.4" y="273.2" width="246.1" height="20.5" fill="#6236c4" fill-opacity="0.97"/>
<rect x="90.4" y="293.7" width="110.8" height="18.2" fill="#9a70d8" fill-opacity="0.42"/>
<rect x="201.2" y="292.9" width="135.4" height="19.0" fill="#8250cc" fill-opacity="0.72"/>
<rect x="90.4" y="311.9" width="246.1" height="14.1" fill="#8052d0" fill-opacity="0.8"/>
<rect x="195.3" y="266.8" width="111.3" height="4.1" fill="#a060c0" fill-opacity="0.55"/>
<rect x="300.8" y="260.6" width="22.0" height="12.6" fill="#a060c0" fill-opacity="0.45"/>
<rect x="142.6" y="248.6" width="167.0" height="4.1" fill="#a858c0" fill-opacity="0.35"/>
</g>
<g filter="url(#stip3)">
<rect x="90.4" y="275.3" width="246.1" height="16.1" fill="#d04068" fill-opacity="0.22"/>
<rect x="171.9" y="292.9" width="164.7" height="19.0" fill="#d04068" fill-opacity="0.12"/>
</g>
<g>
<path d="M102.2,246.3L313.1,247.4" stroke="#9a3cb0" stroke-opacity="0.85" stroke-width="3.2" fill="none"/>
<path d="M159.6,240.1L159.6,277.3" stroke="#9a3cb0" stroke-opacity="0.85" stroke-width="3.4" fill="none"/>
<path d="M229.6,248.6L229.6,281.1" stroke="#9a3cb0" stroke-opacity="0.85" stroke-width="3.6" fill="none"/>
<path d="M312.2,242.2L312.2,263.6" stroke="#9a3cb0" stroke-opacity="0.85" stroke-width="2.6" fill="none"/>
<path d="M322.5,258.6L322.5,282.6" stroke="#9a3cb0" stroke-opacity="0.85" stroke-width="3.2" fill="none"/>
<path d="M150.8,262.1L160.8,262.1" stroke="#9a3cb0" stroke-opacity="0.85" stroke-width="2.4" fill="none"/>
<path d="M130.3,238.6L144.9,238.6" stroke="#9a3cb0" stroke-opacity="0.85" stroke-width="2" fill="none"/>
<path d="M201.8,241.0L230.5,241.6" stroke="#9a3cb0" stroke-opacity="0.85" stroke-width="2.4" fill="none"/>
<path d="M241.6,240.4L253.9,241.0" stroke="#9a3cb0" stroke-opacity="0.85" stroke-width="2" fill="none"/>
<path d="M253.9,240.4L253.9,245.7" stroke="#9a3cb0" stroke-opacity="0.85" stroke-width="2" fill="none"/>
<path d="M259.8,242.2L259.8,246.3" stroke="#9a3cb0" stroke-opacity="0.85" stroke-width="2" fill="none"/>
<path d="M271.5,239.2L301.4,239.8" stroke="#9a3cb0" stroke-opacity="0.85" stroke-width="2.2" fill="none"/>
<path d="M271.5,239.2L271.5,246.3" stroke="#9a3cb0" stroke-opacity="0.85" stroke-width="2" fill="none"/>
<path d="M301.4,239.2L301.4,246.3" stroke="#9a3cb0" stroke-opacity="0.85" stroke-width="2" fill="none"/>
<path d="M277.4,243.3L297.9,243.3" stroke="#a850b8" stroke-opacity="0.6" stroke-width="3" fill="none"/>
<path d="M101.0,245.1L101.0,252.7" stroke="#a050b8" stroke-opacity="0.6" stroke-width="1.6" fill="none"/>
<path d="M139.7,246.9L147.0,253.3" stroke="#a050b8" stroke-opacity="0.6" stroke-width="2" fill="none"/>
<path d="M147.0,253.3L160.2,253.3" stroke="#a050b8" stroke-opacity="0.6" stroke-width="2" fill="none"/>
<path d="M201.2,267.9L306.7,269.1" stroke="#a050b8" stroke-opacity="0.55" stroke-width="1.6" fill="none"/>
<path d="M302.3,267.9L315.5,261.5" stroke="#a050b8" stroke-opacity="0.6" stroke-width="1.6" fill="none"/>
</g>
</g>
<rect x="90.2" y="230.4" width="245.8" height="95.8" fill="none" stroke="#b06424" stroke-width="2.3"/>
<rect x="90" y="339" width="246.5" height="128.5" fill="#fff"/>
<g clip-path="url(#cBEV1)">
<g filter="url(#stip4)">
<rect x="89.9" y="338.8" width="246.7" height="128.9" fill="#5640b0" fill-opacity="0.25"/>
<rect x="171.9" y="362.2" width="126.0" height="85.0" fill="#7040b8" fill-opacity="0.1"/>
</g><g filter="url(#stip5)">
<rect x="89.9" y="338.8" width="246.7" height="128.9" fill="#c8486a" fill-opacity="0.11"/>
</g>
<g stroke-dasharray="2.2 1">
<path d="M171.3,356.4L171.3,400.3" stroke="#5a28b0" stroke-opacity="0.9" stroke-width="2.6" fill="none"/>
<path d="M174.8,365.7L295.0,365.7" stroke="#7a3cb4" stroke-opacity="0.55" stroke-width="1.8" fill="none"/>
<path d="M174.8,388.6L295.0,388.6" stroke="#7a3cb4" stroke-opacity="0.55" stroke-width="2.0" fill="none"/>
<path d="M230.5,406.8L295.0,406.8" stroke="#7a3cb4" stroke-opacity="0.55" stroke-width="1.8" fill="none"/>
<path d="M230.5,443.7L295.0,443.7" stroke="#7a3cb4" stroke-opacity="0.55" stroke-width="2.0" fill="none"/>
<path d="M292.6,400.3L292.6,445.7" stroke="#b04898" stroke-opacity="0.7" stroke-width="3.0" fill="none"/>
<path d="M228.2,353.4L228.2,368.1" stroke="#7a3cb4" stroke-opacity="0.55" stroke-width="1.6" fill="none"/>
<path d="M240.5,353.4L240.5,368.1" stroke="#7a3cb4" stroke-opacity="0.55" stroke-width="1.6" fill="none"/>
<path d="M228.2,353.4L240.5,353.4" stroke="#7a3cb4" stroke-opacity="0.55" stroke-width="1.6" fill="none"/>
<path d="M136.7,416.4L171.9,416.4" stroke="#7a3cb4" stroke-opacity="0.4" stroke-width="1.5" fill="none"/>
<path d="M136.7,439.9L207.1,439.9" stroke="#7a3cb4" stroke-opacity="0.4" stroke-width="1.5" fill="none"/>
<path d="M230.5,406.8L230.5,443.7" stroke="#7a3cb4" stroke-opacity="0.45" stroke-width="1.6" fill="none"/>
<path d="M274.4,365.7L274.4,388.6" stroke="#7a3cb4" stroke-opacity="0.45" stroke-width="1.6" fill="none"/>
<path d="M207.1,365.7L207.1,388.6" stroke="#7a3cb4" stroke-opacity="0.4" stroke-width="1.4" fill="none"/>
<path d="M248.1,417.9L277.4,417.9" stroke="#7a3cb4" stroke-opacity="0.4" stroke-width="1.4" fill="none"/>
<path d="M248.1,429.6L277.4,429.6" stroke="#7a3cb4" stroke-opacity="0.4" stroke-width="1.4" fill="none"/>
</g>
<path d="M120.6,359.3 Q116.8,354.0 130.9,354.0 L167.5,354.6 L167.5,362.8 L136.2,364.0 L135.6,435.5 Q127.9,442.8 118.6,439.0 L116.8,403.2 Z" fill="#fff" fill-opacity="0.93"/>
<rect x="172.8" y="393.3" width="51.9" height="8.2" fill="#fff" fill-opacity="0.9"/>
<rect x="103.9" y="409.1" width="12.9" height="35.2" fill="#fff" fill-opacity="0.55"/>
</g>
<rect x="90.2" y="339.1" width="245.8" height="128.6" fill="none" stroke="#b06424" stroke-width="2.3"/>
<rect x="691.5" y="432.5" width="246" height="97" fill="#fff"/>
<g clip-path="url(#cSV2)">
<g filter="url(#stip8)">
<path d="M691.5,433.1L727.8,434.6L739.9,448.2L761.1,475.5L773.2,502.7L785.3,511.8L785.3,522.4L691.5,522.4Z" fill="#dc4462" fill-opacity="0.5"/>
<path d="M851.9,436.1L936.7,433.1L936.7,523.9L873.1,523.9L864.0,511.8L821.7,499.7L836.8,478.5L851.9,451.2Z" fill="#a468c8" fill-opacity="0.3"/>
<path d="M906.4,433.1L936.7,433.1L936.7,523.9L900.4,523.9Z" fill="#c85078" fill-opacity="0.14"/>
</g><g filter="url(#stip9)">
<path d="M691.5,433.1L727.8,434.6L739.9,448.2L761.1,475.5L773.2,502.7L785.3,511.8L785.3,522.4L691.5,522.4Z" fill="#5a3cc8" fill-opacity="0.3"/>
<path d="M709.6,433.1L727.8,434.6L739.9,448.2L761.1,475.5L773.2,502.7L764.1,503.3L739.9,463.4L715.7,442.2Z" fill="#5a3cc8" fill-opacity="0.45"/>
<path d="M691.5,433.1L718.7,433.7L730.8,446.7L691.5,449.7Z" fill="#5a3cc8" fill-opacity="0.35"/>
<path d="M821.7,501.2L833.8,481.5L851.9,451.2L858.0,436.1L906.4,433.7L882.2,457.3L851.9,484.6L836.8,503.3Z" fill="#5038c4" fill-opacity="0.85"/>
<path d="M900.4,434.6L936.7,433.1L936.7,463.4L912.5,466.4L904.9,514.8L898.9,514.8L900.4,460.3Z" fill="#6040c8" fill-opacity="0.5"/>
<path d="M761.1,522.4L773.2,506.3L797.4,508.2L821.7,498.5L851.9,503.3L870.1,514.8L876.1,522.4Z" fill="#5a30b8" fill-opacity="0.92"/>
<path d="M691.5,512.4L936.7,512.4L936.7,518.5L691.5,518.5Z" fill="#a040a0" fill-opacity="0.5"/>
</g>
<ellipse cx="730.8" cy="503.3" rx="13" ry="9" fill="#fff" fill-opacity="0.55" filter="url(#b2)"/>
<ellipse cx="705.1" cy="475.5" rx="9" ry="12" fill="#fff" fill-opacity="0.35" filter="url(#b2)"/>
<path d="M691.5,518.5L936.7,518.5L936.7,525.1L691.5,525.1Z" fill="#e23a54" fill-opacity="0.88"/>
<path d="M809.5,520.3L936.7,520.3L936.7,525.1L809.5,525.1Z" fill="#7030b0" fill-opacity="0.35"/>
</g>
<rect x="691.5" y="540" width="246" height="136" fill="#fff"/>
<g clip-path="url(#cBEV2)">
<g filter="url(#stip6)">
<rect x="691.5" y="539.7" width="245.8" height="136.2" fill="#3c3ca8" fill-opacity="0.2"/>
<path d="M691.5,590.6L730.8,587.5L761.1,599.6L791.4,611.7L803.5,632.9L812.6,651.1L821.7,620.8L812.6,602.7L833.8,590.6L851.9,587.5L867.1,599.6L879.2,584.5L894.3,593.6L906.4,617.8L924.6,632.9L936.7,651.1L936.7,675.9L691.5,675.9Z" fill="#4444cc" fill-opacity="0.36"/>
<rect x="691.5" y="539.7" width="26.6" height="55.4" fill="#5a40c0" fill-opacity="0.42"/>
<rect x="691.5" y="620.8" width="78.7" height="55.1" fill="#4848d0" fill-opacity="0.12"/>
</g><g filter="url(#stip7)">
<path d="M730.8,587.5L761.1,599.6L791.4,611.7L803.5,632.9L812.6,651.1L821.7,620.8L812.6,602.7L833.8,590.6L851.9,587.5L867.1,599.6L879.2,584.5L894.3,593.6L906.4,617.8L924.6,632.9L936.7,651.1L936.7,675.9L770.2,675.9L758.1,620.8L715.7,595.1L691.5,595.1L691.5,589.0Z" fill="#e04058" fill-opacity="0.36"/>
<rect x="691.5" y="539.7" width="26.6" height="55.4" fill="#e04058" fill-opacity="0.4"/>
<rect x="864.0" y="539.7" width="73.3" height="41.8" fill="#e04058" fill-opacity="0.1"/>
<rect x="691.5" y="620.8" width="78.7" height="55.1" fill="#e04058" fill-opacity="0.1"/>
</g>
<path d="M792.9,607.2C793.9,606.7 799.2,613.0 802.0,617.8C804.7,622.6 807.0,630.7 809.5,636.0C812.1,641.3 817.1,646.8 817.1,649.6C817.1,652.4 812.1,654.4 809.5,652.6C807.0,650.8 804.2,644.3 802.0,639.0C799.7,633.7 797.4,626.1 795.9,620.8C794.4,615.5 791.9,607.7 792.9,607.2Z" fill="#fff" fill-opacity="0.92"/>
<ellipse cx="836.8" cy="666.8" rx="9" ry="4" fill="#fff" fill-opacity="0.85"/>
</g>
<g fill="none" stroke="#b06424" stroke-width="2.2" stroke-dasharray="9 7.5">
<path d="M90.5,468.5 L200.5,620.5"/>
<path d="M336,231 L275.5,540.5"/>
</g>
<g fill="none" stroke="#2a4290" stroke-width="2.2" stroke-dasharray="10 8">
<path d="M616.5,453.5 L937,433"/>
<path d="M533,507 L691.5,676"/>
</g>
<rect x="691.5" y="432.9" width="245.4" height="96.8" fill="none" stroke="#2a4290" stroke-width="2.1"/>
<rect x="691.5" y="539.9" width="245.4" height="135.5" fill="none" stroke="#2a4290" stroke-width="2.1"/>
<rect x="200.2" y="540.4" width="75.2" height="80.4" fill="none" stroke="#b06424" stroke-width="2.2"/>
<rect x="532.8" y="453.8" width="83.5" height="53.2" fill="none" stroke="#2a4290" stroke-width="2.2"/>
<g font-weight="bold" font-size="15.9" fill="#000">
<text x="343" y="287">SV</text>
<text x="344.5" y="409">BEV</text>
<text x="665.5" y="489">SV</text>
<text x="652.5" y="609.5">BEV</text>
</g>
<rect x="814.8" y="256.8" width="17.6" height="17.4" fill="#f84444" stroke="#5a1010" stroke-width="1"/>
<rect x="814.8" y="286.4" width="17.6" height="16.6" fill="#5048ee" stroke="#18104a" stroke-width="1"/>
<g font-weight="bold" font-size="16.2" fill="#000">
<text x="857" y="271.3">Robot 0</text>
<text x="857" y="299.8">Robot 1</text>
</g>
</svg>
<div class="l " style="left:936.50px;top:43.00px;font-size:11.50px;">1</div>
<div class="l " style="left:91.20px;top:98.00px;font-size:29.70px;word-spacing:4.922px;">LEMON-Mapping: Loop-Enhanced Large-Scale Multi-Session Point</div>
<div class="l " style="left:98.70px;top:146.00px;font-size:29.70px;word-spacing:3.925px;">Cloud Merging and Optimization for Globally Consistent Mapping</div>
<div class="l au" style="left:84.30px;top:201.00px;font-size:18.40px;word-spacing:2.405px;">Lijie Wang<sup>1</sup>, Xiaoyi Zhong<sup>1</sup>, Ziyi Xu<sup>1</sup>, Kaixin Chai<sup>2</sup>, Anke Zhao<sup>1</sup>, Tianyu Zhao<sup>1</sup>, Qianhao Wang<sup>1,†</sup>, Fei Gao<sup>1,†</sup></div>
<div class="l " style="left:82.00px;top:701.00px;font-size:15.06px;word-spacing:1.485px;">Fig. 1: The merging map of our framework in island sequence of MARS-LVIG [1] dataset, the details in the figure are framed and shown</div>
<div class="l " style="left:82.00px;top:718.00px;font-size:15.06px;word-spacing:1.156px;">in two forms: side view (SV) and bird’s eye view (BEV).</div>
<div class="l b" style="left:98.60px;top:776.00px;font-size:15.06px;word-spacing:0.223px;"><i>Abstract</i>—With the rapid development of robotics, multi-robot</div>
<div class="l b" style="left:82.00px;top:793.00px;font-size:15.06px;word-spacing:5.851px;">collaboration has become critical and challenging. One key</div>
<div class="l b" style="left:82.00px;top:809.00px;font-size:15.06px;word-spacing:4.686px;">problem is integrating data from multiple robots to build a</div>
<div class="l b" style="left:82.00px;top:826.00px;font-size:15.06px;word-spacing:0.694px;">globally consistent and accurate map for robust cooperation and</div>
<div class="l b" style="left:82.00px;top:843.00px;font-size:15.06px;word-spacing:4.389px;">precise localization. While traditional multi-robot pose graph</div>
<div class="l b" style="left:82.00px;top:859.00px;font-size:15.06px;word-spacing:4.416px;">optimization (PGO) maintains basic global consistency, it fo-</div>
<div class="l b" style="left:82.00px;top:876.00px;font-size:15.06px;word-spacing:1.709px;">cuses primarily on pose optimization and ignores the geometric</div>
<div class="l b" style="left:82.00px;top:893.00px;font-size:15.06px;word-spacing:3.919px;">structure of the map. Moreover, PGO only uses loop closure</div>
<div class="l b" style="left:82.00px;top:909.00px;font-size:15.06px;word-spacing:3.719px;">as a constraint between two nodes, failing to fully exploit its</div>
<div class="l b" style="left:82.00px;top:926.00px;font-size:15.06px;word-spacing:1.590px;">capability to maintaining local consistency of multi-robot maps.</div>
<div class="l b" style="left:82.00px;top:943.00px;font-size:15.06px;word-spacing:-0.208px;">Therefore, PGO-based multi-robot mapping methods often suffer</div>
<div class="l b" style="left:82.00px;top:959.00px;font-size:15.06px;word-spacing:4.891px;">from serious map divergence and blur, especially in regions</div>
<div class="l b" style="left:82.00px;top:976.00px;font-size:15.06px;word-spacing:3.922px;">with overlapping submaps. To address this issue, we propose</div>
<div class="l b" style="left:82.00px;top:993.00px;font-size:15.06px;word-spacing:5.413px;">Lemon-Mapping, a loop-enhanced framework for large-scale</div>
<div class="l b" style="left:82.00px;top:1009.00px;font-size:15.06px;word-spacing:3.570px;">multi-session point cloud map fusion and optimization, which</div>
<div class="l b" style="left:82.00px;top:1026.00px;font-size:15.06px;word-spacing:0.000px;">reasonably utilizes loop closure and improves the geometric qual-</div>
<div class="l b" style="left:82.00px;top:1043.00px;font-size:15.06px;word-spacing:1.803px;">ity of the map. We re-examine the role of loops for multi-robot</div>
<div class="l b" style="left:82.00px;top:1059.00px;font-size:15.06px;word-spacing:-0.083px;">mapping and introduce three key innovations. First, we develop a</div>
<div class="l b" style="left:82.00px;top:1076.00px;font-size:15.06px;word-spacing:0.188px;">robust loop processing mechanism that effectively rejects outliers</div>
<div class="l b" style="left:82.00px;top:1093.00px;font-size:15.06px;word-spacing:1.941px;">and a novel loop recall strategy to recover mistakenly removed</div>
<div class="l b" style="left:82.00px;top:1109.00px;font-size:15.06px;word-spacing:0.862px;">loops. Second, we introduce a spatial bundle adjustment method</div>
<div class="l b" style="left:82.00px;top:1126.00px;font-size:15.06px;word-spacing:0.733px;">for multi-robot maps that significantly reduces the divergence in</div>
<div class="l b" style="left:82.00px;top:1143.00px;font-size:15.06px;word-spacing:0.719px;">overlapping regions and eliminates map blur. Third, we design a</div>
<div class="l b" style="left:82.00px;top:1159.00px;font-size:15.06px;word-spacing:3.174px;">PGO strategy that leverages the refined constraints of bundle</div>
<div class="l b" style="left:82.00px;top:1176.00px;font-size:15.06px;word-spacing:5.019px;">adjustment to extend the local accuracy to the global map.</div>
<div class="l b" style="left:522.60px;top:776.00px;font-size:15.06px;word-spacing:3.792px;">We validate our framework on several public datasets and a</div>
<div class="l b" style="left:522.60px;top:793.00px;font-size:15.06px;word-spacing:0.823px;">self-collected dataset. Experimental results demonstrate that our</div>
<div class="l b" style="left:522.60px;top:809.00px;font-size:15.06px;word-spacing:5.201px;">method outperforms traditional map merging approaches in</div>
<div class="l b" style="left:522.60px;top:826.00px;font-size:15.06px;word-spacing:3.121px;">terms of mapping accuracy and reduction of map divergence.</div>
<div class="l b" style="left:522.60px;top:843.00px;font-size:15.06px;word-spacing:0.579px;">Scalability experiments also demonstrate the strong capability of</div>
<div class="l b" style="left:522.60px;top:859.00px;font-size:15.06px;word-spacing:0.715px;">our framework to handle scenarios involving numerous robots.</div>
<div class="l b" style="left:538.90px;top:886.00px;font-size:15.06px;word-spacing:1.651px;"><i>Index Terms</i>—Multi-robot mapping, map merging, SLAM.</div>
<div class="l " style="left:96.00px;top:1207.00px;font-size:13.38px;word-spacing:0.024px;">This paper was produced by the IEEE Publication Technology Group. They</div>
<div class="l " style="left:82.00px;top:1221.00px;font-size:13.38px;word-spacing:0.958px;">are in Piscataway, NJ.</div>
<div class="l " style="left:96.00px;top:1237.00px;font-size:13.38px;word-spacing:1.064px;">Manuscript received April 19, 2021; revised August 16, 2021.</div>
<div class="l " style="left:666.40px;top:929.00px;font-size:16.73px;">I.<span style="display:inline-block;width:9.6px"></span>I<span style="font-size:13px;letter-spacing:1.35px">NTRODUCTION</span></div>
<div class="l " style="left:522.30px;top:950.00px;font-size:48.30px;font-weight:bold;transform:scaleX(1.07);transform-origin:0 0;">L</div>
<div class="l " style="left:557.50px;top:955.00px;font-size:16.73px;word-spacing:3.220px;">Arge-scale 3D mapping is a fundamental capability in</div>
<div class="l " style="left:557.50px;top:975.00px;font-size:16.73px;word-spacing:3.421px;">modern robotics, providing rich geometric information</div>
<div class="l " style="left:522.60px;top:995.00px;font-size:16.73px;word-spacing:0.289px;">that supports tasks such as drone-based inspection [2]–[4], au-</div>
<div class="l " style="left:522.60px;top:1015.00px;font-size:16.73px;word-spacing:1.188px;">tonomous driving [5], and long-term exploration with ground</div>
<div class="l " style="left:522.60px;top:1035.00px;font-size:16.73px;word-spacing:3.061px;">robots [6]. Furthermore, large-scale 3D maps are also criti-</div>
<div class="l " style="left:522.60px;top:1055.00px;font-size:16.73px;word-spacing:3.030px;">cal for emerging fields such as embodied AI, where agents</div>
<div class="l " style="left:522.60px;top:1075.00px;font-size:16.73px;word-spacing:2.771px;">interact with complex environments based on spatial under-</div>
<div class="l " style="left:522.60px;top:1095.00px;font-size:16.73px;word-spacing:2.857px;">standing [7], and end-to-end visuomotor navigation systems</div>
<div class="l " style="left:522.60px;top:1115.00px;font-size:16.73px;word-spacing:2.268px;">[8], which rely on accurate environmental priors to improve</div>
<div class="l " style="left:522.60px;top:1135.00px;font-size:16.73px;word-spacing:2.538px;">generalization ability and robustness. Especially, multi-robot</div>
<div class="l " style="left:522.60px;top:1155.00px;font-size:16.73px;word-spacing:3.348px;">3D mapping is essential for large-scale and complex tasks,</div>
<div class="l " style="left:522.60px;top:1175.00px;font-size:16.73px;word-spacing:-0.584px;">where heterogeneous robot teams provide greater coverage and</div>
<div class="l " style="left:522.60px;top:1195.00px;font-size:16.73px;word-spacing:2.580px;">robustness compared to a single agent. In scenarios such as</div>
<div class="l " style="left:522.60px;top:1215.00px;font-size:16.73px;word-spacing:-0.224px;">search and rescue [9], forest monitoring [10], and subterranean</div>
<div class="l " style="left:522.60px;top:1235.00px;font-size:16.73px;word-spacing:1.822px;">exploration [11], accurate point cloud fusion is vital to build</div>
<div class="arx">arXiv:2505.10018v1&nbsp; [cs.RO]&nbsp; 15 May 2025</div>
</body></html>
